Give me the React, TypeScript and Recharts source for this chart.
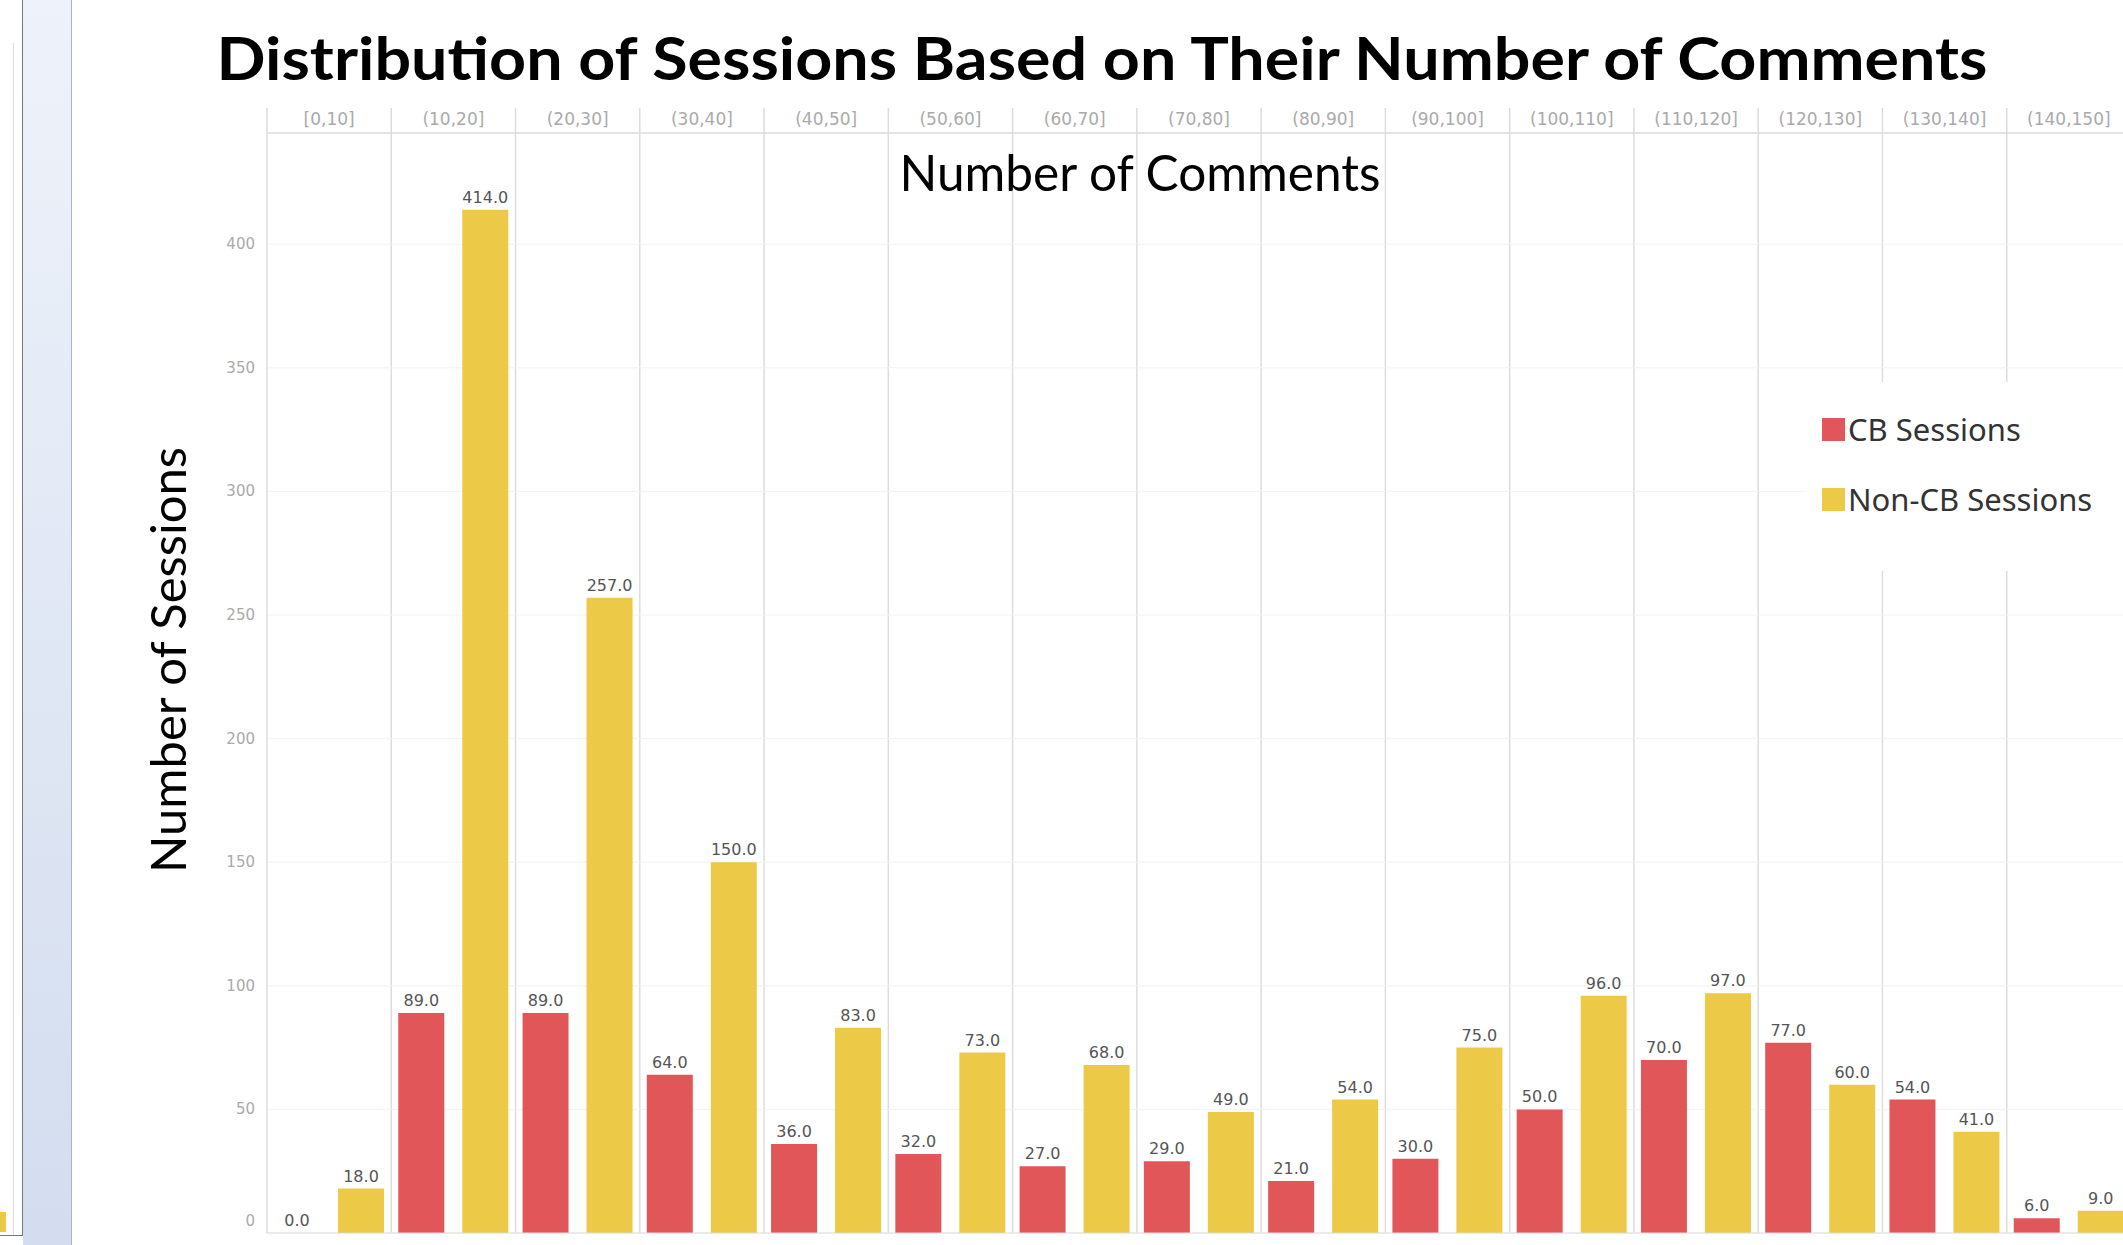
import { BarChart, Bar, XAxis, YAxis, CartesianGrid, LabelList, ReferenceLine, Rectangle } from "recharts";

const CATEGORIES = [
  "[0,10]",
  "(10,20]",
  "(20,30]",
  "(30,40]",
  "(40,50]",
  "(50,60]",
  "(60,70]",
  "(70,80]",
  "(80,90]",
  "(90,100]",
  "(100,110]",
  "(110,120]",
  "(120,130]",
  "(130,140]",
  "(140,150]",
];
const CB_SESSIONS = [0, 89, 89, 64, 36, 32, 27, 29, 21, 30, 50, 70, 77, 54, 6];
const NON_CB_SESSIONS = [18, 414, 257, 150, 83, 73, 68, 49, 54, 75, 96, 97, 60, 41, 9];
const Y_TICKS = [0, 50, 100, 150, 200, 250, 300, 350, 400];

const data = CATEGORIES.map((range, i) => ({
  range,
  cb: CB_SESSIONS[i],
  nonCb: NON_CB_SESSIONS[i],
}));

const RED = "#E15759";
const YELLOW = "#EDC948";
const TICK_FONT = "'DejaVu Sans', Verdana, sans-serif";
const TITLE_FONT = "Lato, 'Open Sans', sans-serif";

// header cell: label + separator on the left side of the band
function HeaderTick(props: any) {
  const { x, y, payload } = props;
  const half = payload?.offset ?? 0;
  return (
    <g>
      <line x1={x - half} x2={x - half} y1={y - 17} y2={y + 8} stroke="#dcdcdc" strokeWidth={1.5} />
      <text x={x} y={y} textAnchor="middle" fill="#aaa" fontSize={17} fontFamily={TICK_FONT}>
        {payload.value}
      </text>
    </g>
  );
}

function ValueTick(props: any) {
  const { x, y, payload } = props;
  // the zero label sits a bit above the baseline
  const shift = payload.value === 0 ? -12 : 0;
  return (
    <text x={x} y={y + shift} dy={5} textAnchor="end" fill="#aaa" fontSize={15} fontFamily={TICK_FONT}>
      {payload.value}
    </text>
  );
}

// zero-valued bars keep their label but draw no rectangle
function BarShape(props: any) {
  if (!props.height || props.height < 1) return <g />;
  return <Rectangle {...props} />;
}

function bandBoundaries({ offset }: any) {
  const n = CATEGORIES.length;
  const pts: number[] = [];
  for (let i = 1; i < n; i++) pts.push(offset.left + (i * offset.width) / n);
  return pts;
}

const fmt = (v: any) => Number(v).toFixed(1);

export default function App() {
  return (
    <div
      style={{
        position: "fixed",
        left: 0,
        top: 0,
        width: 2123,
        height: 1245,
        overflow: "hidden",
        background: "#fff",
      }}
    >
      {/* neighbouring slide panel on the left */}
      <div
        style={{
          position: "absolute",
          left: 0,
          top: 0,
          width: 22,
          height: 1235,
          borderRight: "1px solid #777",
          borderBottom: "1px solid #777",
          background: "#fff",
        }}
      >
        <div style={{ position: "absolute", left: 13, top: 43, width: 1, height: 1192, background: "#ddd" }} />
        <div style={{ position: "absolute", left: 0, top: 1212, width: 6, height: 20, background: YELLOW }} />
      </div>
      <div
        style={{
          position: "absolute",
          left: 23,
          top: 0,
          width: 48,
          height: 1245,
          borderRight: "1px solid #aab4c4",
          background: "linear-gradient(#eef2fa, #d3ddef)",
        }}
      />

      <div style={{ position: "absolute", left: 0, top: 0 }}>
        <BarChart
          width={2140}
          height={1245}
          data={data}
          margin={{ top: 108, right: 9, bottom: 12, left: 187 }}
          barCategoryGap={7}
          barGap={18}
        >
          <CartesianGrid
            stroke="#dcdcdc"
            strokeWidth={1.5}
            horizontal={false}
            verticalCoordinatesGenerator={bandBoundaries}
          />
          <CartesianGrid stroke="#f2f2f2" vertical={false} />
          <XAxis
            dataKey="range"
            orientation="top"
            height={25}
            tickSize={0}
            tickMargin={8}
            tickLine={false}
            axisLine={{ stroke: "#dcdcdc", strokeWidth: 1.5 }}
            interval={0}
            tick={<HeaderTick />}
          />
          <YAxis
            width={80}
            domain={[0, 445]}
            ticks={Y_TICKS}
            tickSize={0}
            tickMargin={12}
            tickLine={false}
            axisLine={{ stroke: "#dcdcdc", strokeWidth: 1.5 }}
            tick={<ValueTick />}
          />
          <ReferenceLine y={0} stroke="#dcdcdc" />
          <Bar
            dataKey="cb"
            name="CB Sessions"
            fill={RED}
            minPointSize={0.5}
            shape={<BarShape />}
            isAnimationActive={false}
          >
            <LabelList
              dataKey="cb"
              position="top"
              offset={7}
              formatter={fmt}
              fill="#555"
              fontSize={16}
              fontFamily={TICK_FONT}
            />
          </Bar>
          <Bar
            dataKey="nonCb"
            name="Non-CB Sessions"
            fill={YELLOW}
            minPointSize={0.5}
            shape={<BarShape />}
            isAnimationActive={false}
          >
            <LabelList
              dataKey="nonCb"
              position="top"
              offset={7}
              formatter={fmt}
              fill="#555"
              fontSize={16}
              fontFamily={TICK_FONT}
            />
          </Bar>
        </BarChart>
      </div>

      {/* legend */}
      <div
        style={{
          position: "absolute",
          left: 1805,
          top: 382,
          width: 330,
          height: 189,
          background: "#fff",
          fontFamily: "'Noto Sans', sans-serif",
          fontSize: 31,
          color: "#333",
        }}
      >
        {[
          { label: "CB Sessions", color: RED, top: 27 },
          { label: "Non-CB Sessions", color: YELLOW, top: 97 },
        ].map((item) => (
          <div
            key={item.label}
            style={{ position: "absolute", left: 17, top: item.top, display: "flex", alignItems: "center", lineHeight: "40px" }}
          >
            <span style={{ width: 23, height: 23, background: item.color, display: "inline-block", marginRight: 3 }} />
            <span>{item.label}</span>
          </div>
        ))}
      </div>

      {/* titles */}
      <svg
        width={2123}
        height={1245}
        style={{ position: "absolute", left: 0, top: 0, pointerEvents: "none" }}
      >
        <text
          x={1102}
          y={80}
          textAnchor="middle"
          fontFamily={TITLE_FONT}
          fontWeight={700}
          fontSize={60}
          fill="#000"
          textLength={1771}
          lengthAdjust="spacingAndGlyphs"
        >
          Distribution of Sessions Based on Their Number of Comments
        </text>
        <text
          x={1140}
          y={191}
          textAnchor="middle"
          fontFamily={TITLE_FONT}
          fontSize={50}
          fill="#000"
          textLength={481}
          lengthAdjust="spacingAndGlyphs"
        >
          Number of Comments
        </text>
        <text
          transform="translate(186,660) rotate(-90)"
          textAnchor="middle"
          fontFamily={TITLE_FONT}
          fontSize={48}
          fill="#000"
          textLength={426}
          lengthAdjust="spacingAndGlyphs"
        >
          Number of Sessions
        </text>
      </svg>
    </div>
  );
}
